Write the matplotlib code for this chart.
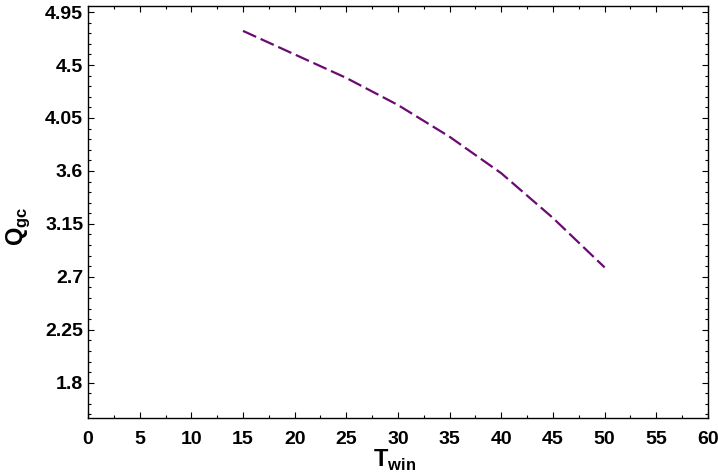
import matplotlib.pyplot as plt
from matplotlib.ticker import MultipleLocator

plt.rcParams['font.family'] = 'Liberation Sans'
plt.rcParams['font.weight'] = 'bold'
plt.rcParams['mathtext.fontset'] = 'custom'
plt.rcParams['mathtext.rm'] = 'Liberation Sans:bold'
plt.rcParams['mathtext.bf'] = 'Liberation Sans:bold'

# values
t_win = [15, 20, 25, 30, 35, 40, 45, 50]
q_gc = [4.79, 4.59, 4.39, 4.16, 3.89, 3.58, 3.20, 2.78]

y_ticks = [1.8, 2.25, 2.7, 3.15, 3.6, 4.05, 4.5, 4.95]
y_labels = ['1.8', '2.25', '2.7', '3.15', '3.6', '4.05', '4.5', '4.95']

fig = plt.figure(figsize=(7.18, 4.76), dpi=100)
ax = fig.add_axes([0.1226, 0.1218, 0.8634, 0.8652])

ax.plot(t_win, q_gc, color='#6b0a72', lw=1.6, dashes=[6.5, 2.2])

ax.set_xlim(0, 60)
ax.set_ylim(1.5, 5.0)
ax.xaxis.set_major_locator(MultipleLocator(5))
ax.xaxis.set_minor_locator(MultipleLocator(2.5))
ax.set_yticks(y_ticks)
ax.set_yticklabels(y_labels)
ax.yaxis.set_minor_locator(MultipleLocator(0.09))

ax.tick_params(which='both', direction='in', top=True, right=True, width=0.8, labelsize=14)
ax.tick_params(which='major', length=4)
ax.tick_params(which='minor', length=2.3)
ax.tick_params(axis='x', pad=9.5)
ax.tick_params(axis='y', pad=3.5)
for s in ax.spines.values():
    s.set_linewidth(1.0)

ax.set_xlabel(r'$\mathbf{T}_{\mathbf{win}}$', fontsize=17)
ax.xaxis.set_label_coords(0.494, -0.073)
ax.set_ylabel(r'$\mathbf{Q}_{\mathbf{gc}}$', fontsize=17)
ax.yaxis.set_label_coords(-0.09, 0.465)

fig.savefig('out.png', dpi=100)
